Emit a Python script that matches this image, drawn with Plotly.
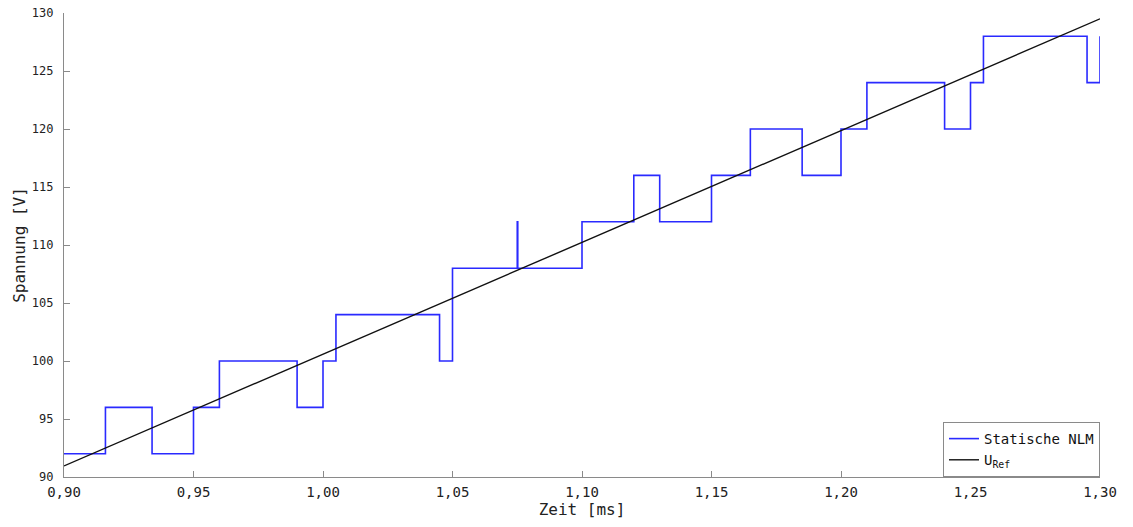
import plotly.graph_objects as go

# Staircase output of the static NLM (time in ms, voltage in V)
nlm_t = [0.90, 0.916, 0.934, 0.95, 0.960, 0.99, 1.00, 1.005, 1.045, 1.05,
         1.075, 1.0752, 1.10, 1.12, 1.13, 1.15, 1.165, 1.185, 1.20, 1.21,
         1.24, 1.25, 1.255, 1.295, 1.30]
nlm_v = [92, 96, 92, 96, 100, 96, 100, 104, 100, 108,
         112, 108, 112, 116, 112, 116, 120, 116, 120, 124,
         120, 124, 128, 124, 128]

# Reference voltage (straight ramp)
ref_t = [0.90, 1.30]
ref_v = [90.95, 129.5]

x_ticks = [0.90, 0.95, 1.00, 1.05, 1.10, 1.15, 1.20, 1.25, 1.30]
y_ticks = [90, 95, 100, 105, 110, 115, 120, 125, 130]

FONT = "DejaVu Sans Mono"

fig = go.Figure()
fig.add_trace(go.Scatter(x=nlm_t, y=nlm_v, mode="lines", line_shape="hv",
                         name="Statische NLM",
                         line=dict(color="#2a2aff", width=1.6)))
fig.add_trace(go.Scatter(x=ref_t, y=ref_v, mode="lines",
                         name="U<sub>Ref</sub>",
                         line=dict(color="#111111", width=1.4)))

axis_common = dict(showgrid=False, zeroline=False, showline=True,
                   linecolor="#8a8a8a", linewidth=1.2, ticks="inside",
                   ticklen=6, tickcolor="#8a8a8a", mirror=False,
                   automargin=False, ticklabeloverflow="allow")

fig.update_layout(
    width=1133, height=527, autosize=False,
    margin=dict(l=64, r=33, t=13, b=50, autoexpand=False),
    paper_bgcolor="white", plot_bgcolor="white",
    separators=",.",
    font=dict(family=FONT, color="#222222"),
    showlegend=True,
    legend=dict(x=1, y=0, xanchor="right", yanchor="bottom",
                bgcolor="white", bordercolor="#8a8a8a", borderwidth=1,
                font=dict(family=FONT, size=14, color="#111111"),
                tracegroupgap=0, itemwidth=30),
    xaxis=dict(range=[0.90, 1.30], tickvals=x_ticks, tickformat=".2f",
               ticklabelstandoff=2,
               tickfont=dict(family=FONT, size=14, color="#222222"),
               title=dict(text="Zeit [ms]", standoff=3,
                          font=dict(family=FONT, size=16, color="#222222")),
               **axis_common),
    yaxis=dict(range=[90, 130], tickvals=y_ticks, ticklabelstandoff=7,
               tickfont=dict(family=FONT, size=12, color="#222222"),
               title=dict(text="Spannung [V]", standoff=2,
                          font=dict(family=FONT, size=16, color="#222222")),
               **axis_common),
)

# remove the default 8px page margin so the figure fills the window exactly
fig.write_html("out.html",
               config={"displayModeBar": False},
               post_script="document.body.style.margin='0';"
                           "document.body.style.overflow='hidden';")
